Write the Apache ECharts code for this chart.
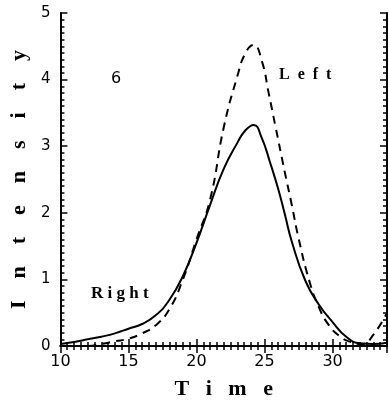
<!DOCTYPE html>
<html>
<head>
<meta charset="utf-8">
<script src="https://cdn.jsdelivr.net/npm/echarts@6/dist/echarts.min.js"></script>
<style>
  html, body { margin: 0; padding: 0; background: #fff; }
  #chart { width: 389px; height: 405px; }
</style>
</head>
<body>
<div id="chart"></div>
<script>
// Right (solid) and Left (dashed) intensity curves
const timeRight = [10, 11, 12, 13, 14, 15, 16, 17, 18, 19, 20, 21, 22, 23, 23.6, 24.2, 24.8, 25.4, 26, 26.5, 27, 28, 29, 30, 31, 32, 33, 34];
const intensityRight = [0.03, 0.06, 0.10, 0.14, 0.19, 0.26, 0.33, 0.46, 0.69, 1.05, 1.55, 2.12, 2.66, 3.05, 3.24, 3.32, 3.12, 2.76, 2.36, 1.97, 1.57, 0.98, 0.62, 0.36, 0.14, 0.04, 0.03, 0.05];

const timeLeft = [10, 12, 13, 14, 15, 16, 17, 18, 19, 20, 21, 22, 23, 23.6, 24.2, 24.8, 25.3, 25.8, 26.5, 27, 27.5, 28.3, 29, 29.7, 30.5, 31.2, 32.2, 33, 34];
const intensityLeft = [0.0, 0.0, 0.03, 0.07, 0.11, 0.19, 0.31, 0.55, 1.0, 1.6, 2.2, 3.28, 4.05, 4.4, 4.52, 4.28, 3.8, 3.3, 2.6, 2.12, 1.62, 0.97, 0.58, 0.32, 0.15, 0.07, 0.03, 0.17, 0.5];

const pair = (xs, ys) => xs.map((x, i) => [x, ys[i]]);

const chart = echarts.init(document.getElementById('chart'));

const labelFont = 'DejaVu Sans, sans-serif';
const titleFont = 'Liberation Serif, serif';

// boxed axis with inward major + minor ticks
function frameAxis(extra) {
  const o = {
    type: 'value',
    axisLine: { show: true, lineStyle: { color: '#000', width: 2 } },
    axisTick: { show: true, inside: true, length: 7, lineStyle: { color: '#000', width: 1.5 } },
    minorTick: { show: true, splitNumber: 10, length: 4, lineStyle: { color: '#000', width: 1.5 } },
    splitLine: { show: false },
  };
  return Object.assign(o, extra);
}

const option = {
  animation: false,
  grid: { left: 45, right: 2, top: 13, bottom: 50 },
  xAxis: [
    frameAxis({
      min: 10, max: 34, interval: 5,
      axisLabel: { color: '#000', fontSize: 16, fontFamily: labelFont, margin: 8, showMaxLabel: false },
      name: 'T   i   m   e', nameLocation: 'middle', nameGap: 32,
      nameTextStyle: { color: '#000', fontSize: 22, fontWeight: 'bold', fontFamily: titleFont },
    }),
    frameAxis({ min: 10, max: 34, interval: 5, position: 'top', axisLabel: { show: false } }),
  ],
  yAxis: [
    frameAxis({
      min: 0, max: 5, interval: 1,
      axisLabel: { color: '#000', fontSize: 15, fontFamily: labelFont, margin: 10 },
      name: 'I    n    t    e    n    s    i    t    y', nameLocation: 'middle', nameGap: 27,
      nameTextStyle: { color: '#000', fontSize: 22, fontWeight: 'bold', fontFamily: titleFont },
    }),
    frameAxis({ min: 0, max: 5, interval: 1, position: 'right', axisLabel: { show: false } }),
  ],
  series: [
    {
      name: 'Right', type: 'line', data: pair(timeRight, intensityRight),
      smooth: 0.5, showSymbol: false,
      lineStyle: { color: '#000', width: 2 },
    },
    {
      // own canvas layer so the dash pattern can't leak onto the axis ticks
      name: 'Left', type: 'line', data: pair(timeLeft, intensityLeft),
      zlevel: 1,
      smooth: 0.5, showSymbol: false,
      lineStyle: { color: '#000', width: 2, type: [8, 6] },
    },
  ],
  graphic: [
    { type: 'text', left: 111, top: 71, style: { text: '6', fill: '#000', font: '16px ' + labelFont } },
    { type: 'text', left: 91, top: 285, style: { text: 'R i g h t', fill: '#000', font: 'bold 17px ' + titleFont } },
    { type: 'text', left: 279, top: 67, style: { text: 'L  e  f  t', fill: '#000', font: 'bold 16px ' + titleFont } },
  ],
};

chart.setOption(option);
</script>
</body>
</html>
